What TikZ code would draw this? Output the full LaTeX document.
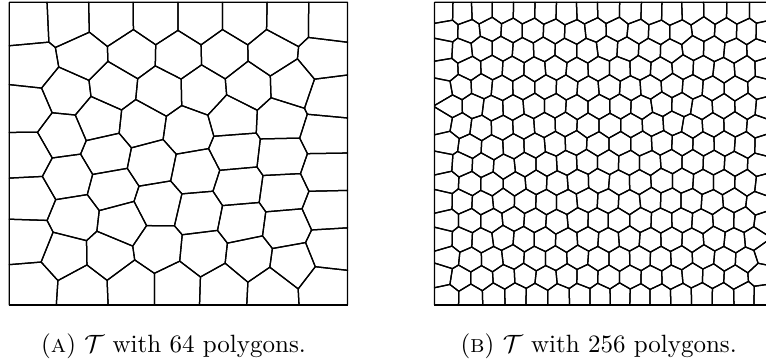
\documentclass[tikz,border=0pt]{standalone}
\usepackage{tikz}
\ExplSyntaxOn
\int_new:N \l_vor_a_int
\int_new:N \l_vor_b_int
\int_new:N \l_vor_c_int
\int_new:N \l_vor_px_int
\int_new:N \l_vor_py_int
\int_new:N \l_vor_qx_int
\int_new:N \l_vor_qy_int
\int_new:N \l_vor_pv_int
\int_new:N \l_vor_cv_int
\int_new:N \l_vor_t_int
\int_new:N \l_vor_area_int
\int_new:N \l_vor_cx_int
\int_new:N \l_vor_cy_int
\int_new:N \l_vor_sx_int
\int_new:N \l_vor_sy_int
\int_new:N \l_vor_bxa_int
\int_new:N \l_vor_bya_int
\int_new:N \l_vor_bxb_int
\int_new:N \l_vor_byb_int
\int_new:N \l_vor_r_int
\int_new:N \l_vor_rr_int
\seq_new:N \l_vor_poly_seq
\seq_new:N \l_vor_out_seq
\seq_new:N \l_vor_new_seq
\seq_new:N \g_vor_sites_seq
\tl_new:N \l_vor_tmp_tl
\tl_new:N \l_vor_path_tl

% value of the half-plane function at a point: 2(a x + b y) - c  (<= 0 : keep)
\cs_new_protected:Npn \vor_setprev:nn #1#2
  {
    \int_set:Nn \l_vor_px_int {#1}
    \int_set:Nn \l_vor_py_int {#2}
    \int_set:Nn \l_vor_pv_int
      { 2 * ( \l_vor_a_int * \l_vor_px_int + \l_vor_b_int * \l_vor_py_int ) - \l_vor_c_int }
  }
\cs_new_protected:Npn \vor_inter:nn #1#2
  {
    \seq_put_right:Nx \l_vor_out_seq
      {
        { \int_eval:n { \l_vor_px_int + ( #1 - \l_vor_px_int ) * \l_vor_pv_int / ( \l_vor_pv_int - \l_vor_cv_int ) } }
        { \int_eval:n { \l_vor_py_int + ( #2 - \l_vor_py_int ) * \l_vor_pv_int / ( \l_vor_pv_int - \l_vor_cv_int ) } }
      }
  }
\cs_new_protected:Npn \vor_step:nn #1#2
  {
    \int_set:Nn \l_vor_cv_int
      { 2 * ( \l_vor_a_int * #1 + \l_vor_b_int * #2 ) - \l_vor_c_int }
    \int_compare:nNnTF \l_vor_cv_int > { 0 }
      {
        \int_compare:nNnF \l_vor_pv_int > { 0 }
          { \vor_inter:nn {#1} {#2} }
      }
      {
        \int_compare:nNnT \l_vor_pv_int > { 0 }
          { \vor_inter:nn {#1} {#2} }
        \seq_put_right:Nn \l_vor_out_seq { {#1} {#2} }
      }
    \int_set:Nn \l_vor_px_int {#1}
    \int_set:Nn \l_vor_py_int {#2}
    \int_set_eq:NN \l_vor_pv_int \l_vor_cv_int
  }
\cs_new_protected:Npn \vor_clip:nnn #1#2#3
  {
    \int_set:Nn \l_vor_a_int {#1}
    \int_set:Nn \l_vor_b_int {#2}
    \int_set:Nn \l_vor_c_int {#3}
    \seq_if_empty:NF \l_vor_poly_seq
      {
        \seq_clear:N \l_vor_out_seq
        \seq_get_right:NN \l_vor_poly_seq \l_vor_tmp_tl
        \exp_after:wN \vor_setprev:nn \l_vor_tmp_tl
        \seq_map_inline:Nn \l_vor_poly_seq { \vor_step:nn ##1 }
        \seq_set_eq:NN \l_vor_poly_seq \l_vor_out_seq
      }
  }
\cs_new_protected:Npn \vor_try:nnnn #1#2#3#4
  {
    \int_compare:nNnT { \int_abs:n { #1 - #3 } } < \l_vor_r_int
      {
        \int_compare:nNnT { \int_abs:n { #2 - #4 } } < \l_vor_r_int
          {
            \int_compare:nNnT { (#1-#3)*(#1-#3) + (#2-#4)*(#2-#4) } > { 0 }
              {
                \int_compare:nNnT { (#1-#3)*(#1-#3) + (#2-#4)*(#2-#4) } < \l_vor_rr_int
                  {
                    \vor_clip:nnn { #1 - #3 } { #2 - #4 }
                      { #1 * #1 + #2 * #2 - #3 * #3 - #4 * #4 }
                  }
              }
          }
      }
  }
\cs_new_protected:Npn \vor_cell:nn #1#2
  {
    \seq_clear:N \l_vor_poly_seq
    \seq_put_right:Nx \l_vor_poly_seq
      { { \int_use:N \l_vor_bxa_int } { \int_use:N \l_vor_bya_int } }
    \seq_put_right:Nx \l_vor_poly_seq
      { { \int_use:N \l_vor_bxb_int } { \int_use:N \l_vor_bya_int } }
    \seq_put_right:Nx \l_vor_poly_seq
      { { \int_use:N \l_vor_bxb_int } { \int_use:N \l_vor_byb_int } }
    \seq_put_right:Nx \l_vor_poly_seq
      { { \int_use:N \l_vor_bxa_int } { \int_use:N \l_vor_byb_int } }
    \seq_map_inline:Nn \g_vor_sites_seq { \vor_try:nnnn ##1 {#1} {#2} }
  }
\cs_new:Npn \vor_pt:nn #1#2 { (#1,#2) }
\cs_new_protected:Npn \vor_draw:
  {
    \seq_map_inline:Nn \g_vor_sites_seq
      {
        \vor_cell:nn ##1
        \tl_clear:N \l_vor_path_tl
        \seq_map_inline:Nn \l_vor_poly_seq
          { \tl_put_right:Nx \l_vor_path_tl { \vor_pt:nn ####1 -- } }
        \tl_put_right:Nn \l_vor_path_tl { cycle }
        \use:x { \exp_not:N \draw [vcell] \exp_not:V \l_vor_path_tl ; }
      }
  }
\cs_new_protected:Npn \vor_cprev:nn #1#2
  {
    \int_set:Nn \l_vor_px_int { #1 - \l_vor_sx_int }
    \int_set:Nn \l_vor_py_int { #2 - \l_vor_sy_int }
  }
\cs_new_protected:Npn \vor_cstep:nn #1#2
  {
    \int_set:Nn \l_vor_qx_int { #1 - \l_vor_sx_int }
    \int_set:Nn \l_vor_qy_int { #2 - \l_vor_sy_int }
    \int_set:Nn \l_vor_t_int
      { \l_vor_px_int * \l_vor_qy_int - \l_vor_qx_int * \l_vor_py_int }
    \int_add:Nn \l_vor_area_int { \l_vor_t_int }
    \int_add:Nn \l_vor_cx_int { ( \l_vor_px_int + \l_vor_qx_int ) * \l_vor_t_int / 256 }
    \int_add:Nn \l_vor_cy_int { ( \l_vor_py_int + \l_vor_qy_int ) * \l_vor_t_int / 256 }
    \int_set_eq:NN \l_vor_px_int \l_vor_qx_int
    \int_set_eq:NN \l_vor_py_int \l_vor_qy_int
  }
\cs_new_protected:Npn \vor_centroid:nn #1#2
  {
    \int_set:Nn \l_vor_sx_int {#1}
    \int_set:Nn \l_vor_sy_int {#2}
    \int_zero:N \l_vor_area_int
    \int_zero:N \l_vor_cx_int
    \int_zero:N \l_vor_cy_int
    \seq_get_right:NN \l_vor_poly_seq \l_vor_tmp_tl
    \exp_after:wN \vor_cprev:nn \l_vor_tmp_tl
    \seq_map_inline:Nn \l_vor_poly_seq { \vor_cstep:nn ##1 }
    \int_compare:nNnTF \l_vor_area_int = { 0 }
      {
        \int_set_eq:NN \l_vor_cx_int \l_vor_sx_int
        \int_set_eq:NN \l_vor_cy_int \l_vor_sy_int
      }
      {
        \int_set:Nn \l_vor_cx_int
          { \l_vor_sx_int + \l_vor_cx_int * 256 / ( 3 * \l_vor_area_int ) }
        \int_set:Nn \l_vor_cy_int
          { \l_vor_sy_int + \l_vor_cy_int * 256 / ( 3 * \l_vor_area_int ) }
      }
  }
\cs_new_protected:Npn \vor_lloyd:
  {
    \seq_clear:N \l_vor_new_seq
    \seq_map_inline:Nn \g_vor_sites_seq
      {
        \vor_cell:nn ##1
        \vor_centroid:nn ##1
        \seq_put_right:Nx \l_vor_new_seq
          { { \int_use:N \l_vor_cx_int } { \int_use:N \l_vor_cy_int } }
      }
    \seq_gset_eq:NN \g_vor_sites_seq \l_vor_new_seq
  }
% box corners and cut-off radius, all in 1/16 px
\cs_new_protected:Npn \VorBox #1#2#3#4#5
  {
    \int_set:Nn \l_vor_bxa_int {#1}
    \int_set:Nn \l_vor_bya_int {#2}
    \int_set:Nn \l_vor_bxb_int {#3}
    \int_set:Nn \l_vor_byb_int {#4}
    \int_set:Nn \l_vor_r_int {#5}
    \int_set:Nn \l_vor_rr_int { #5 * #5 }
  }
\cs_new_protected:Npn \VorClear { \seq_gclear:N \g_vor_sites_seq }
% site given in 3x-zoom pixel coordinates
\cs_new_protected:Npn \VorZ #1#2
  {
    \seq_gput_right:Nx \g_vor_sites_seq
      { { \int_eval:n { #1 * 16 / 3 } } { \int_eval:n { #2 * 16 / 3 } } }
  }
\cs_new_protected:Npn \VorLloyd { \vor_lloyd: }
\cs_new_protected:Npn \VorDraw { \vor_draw: }
% #1 x0, #2 y0, #3 a, #4 h (units), #5 cols, #6 rows, #7 jitter half-range
\cs_new_protected:Npn \VorLattice #1#2#3#4#5#6#7
  {
    \int_step_inline:nnn { 0 } { #6 - 1 }
      {
        \int_step_inline:nnn { 0 } { #5 - 1 }
          {
            \seq_gput_right:Nx \g_vor_sites_seq
              {
                { \int_eval:n { #1 + ( 4 * ####1 + 2 + \int_if_odd:nTF {##1} {1} {-1} ) * (#3) / 4
                    + \int_mod:nn { ##1 * 7919 + ####1 * 104729 + ##1 * ####1 * 31 + 13 } { 2 * #7 + 1 } - #7 } }
                { \int_eval:n { #2 + ( 2 * ##1 + 1 ) * (#4) / 2
                    + \int_mod:nn { ##1 * 104723 + ####1 * 7907 + ##1 * ####1 * 17 + 5 } { 2 * #7 + 1 } - #7 } }
              }
          }
      }
  }
\ExplSyntaxOff

\begin{document}
\begin{tikzpicture}[x=0.4pt,y=-0.4pt,
  vcell/.style={line width=0.5pt, line join=round},
  frame/.style={line width=0.55pt},
  captext/.style={anchor=base west, inner sep=0pt}]
\useasboundingbox (0,0) rectangle (766,363);
\clip (0,0) rectangle (766,363);
\begin{scope}[x=0.025pt,y=-0.025pt]
% ---------- left: 64 polygons ----------
\VorClear
\VorBox{149}{37}{5563}{4880}{1440}
\VorZ{85}{65}\VorZ{205}{60}\VorZ{334}{55}\VorZ{467}{55}\VorZ{601}{55}\VorZ{734}{55}\VorZ{863}{57}\VorZ{985}{60}
\VorZ{95}{195}\VorZ{250}{165}\VorZ{395}{160}\VorZ{535}{165}\VorZ{675}{160}\VorZ{815}{160}\VorZ{970}{180}
\VorZ{80}{330}\VorZ{200}{280}\VorZ{340}{260}\VorZ{480}{275}\VorZ{610}{270}\VorZ{745}{260}\VorZ{875}{255}\VorZ{990}{290}
\VorZ{80}{465}\VorZ{185}{405}\VorZ{300}{365}\VorZ{425}{370}\VorZ{565}{395}\VorZ{700}{352}\VorZ{845}{360}\VorZ{985}{405}
\VorZ{80}{595}\VorZ{205}{530}\VorZ{320}{460}\VorZ{455}{490}\VorZ{585}{515}\VorZ{705}{455}\VorZ{845}{470}\VorZ{985}{515}
\VorZ{85}{725}\VorZ{225}{655}\VorZ{340}{565}\VorZ{475}{615}\VorZ{595}{640}\VorZ{715}{560}\VorZ{850}{580}\VorZ{985}{630}
\VorZ{365}{670}\VorZ{725}{665}\VorZ{860}{680}
\VorZ{195}{765}\VorZ{330}{760}\VorZ{475}{740}\VorZ{610}{755}\VorZ{745}{770}\VorZ{875}{790}\VorZ{990}{745}
\VorZ{95}{855}\VorZ{250}{865}\VorZ{395}{865}\VorZ{530}{865}\VorZ{670}{865}\VorZ{818}{870}\VorZ{975}{865}
\VorLloyd
\VorLloyd
\VorDraw
\draw[frame] (149,37) rectangle (5563,4880);
% ---------- right: 256 polygons ----------
\VorClear
\VorBox{6955}{37}{12368}{4880}{700}
\VorLattice{6955}{37}{338}{303}{16}{16}{70}
\VorLloyd
\VorLloyd
\VorLloyd
\VorLloyd
\VorDraw
\draw[frame] (6955,37) rectangle (12368,4880);
\end{scope}
% ---------- captions ----------
\node[captext] (capa) at (40.7,352) {(\textsc{a}) $\mathcal{T}$ with 64 polygons.};
\node[captext] (capb) at (460,352) {(\textsc{b}) $\mathcal{T}$ with 256 polygons.};
\end{tikzpicture}
\end{document}
